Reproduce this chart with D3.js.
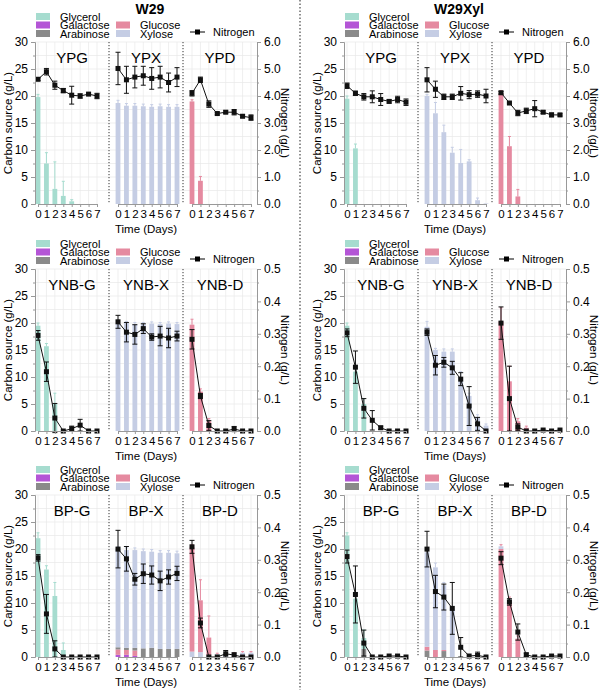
<!DOCTYPE html>
<html><head><meta charset="utf-8">
<script src="https://cdn.jsdelivr.net/npm/d3@7/dist/d3.min.js"></script>
<style>body{margin:0;background:#fff}text{font-family:"Liberation Sans",Arial,sans-serif}</style>
</head><body><svg id="c" width="604" height="690"></svg>
<script>
const days=[0,1,2,3,4,5,6,7];
const strains=["W29","W29Xyl"];
const mediaRows=[["YPG","YPX","YPD"],["YNB-G","YNB-X","YNB-D"],["BP-G","BP-X","BP-D"]];
const nitrogenMax=[6,0.5,0.5];
const nitrogenTicks=[[0,1,2,3,4,5,6],[0,0.1,0.2,0.3,0.4,0.5],[0,0.1,0.2,0.3,0.4,0.5]];
const carbonTicks=[0,5,10,15,20,25,30];
const sugarColors={glycerol:"#a6dccf",galactose:"#b455d6",arabinose:"#8a8a8a",glucose:"#e58aa0",xylose:"#c5cde4"};
// ---- W29 ----
const W29_YPG_glycerol=[19.8,7.5,2.8,1.5,0.5,0,0,0], W29_YPG_err=[0.5,2,5,2.7,0.3,0,0,0];
const W29_YPG_N=[4.62,4.9,4.4,4.2,4.03,4.0,4.07,4.0], W29_YPG_Nerr=[0.05,0.12,0.15,0.08,0.33,0.08,0.04,0.1];
const W29_YPX_xylose=[18.7,18.2,18.2,18.1,18.0,18.1,18.0,18.0], W29_YPX_err=[0.5,0.4,0.4,0.4,0.4,0.4,0.4,0.4];
const W29_YPX_N=[5.02,4.6,4.7,4.75,4.65,4.7,4.5,4.7], W29_YPX_Nerr=[0.6,0.5,0.4,0.35,0.4,0.4,0.35,0.35];
const W29_YPD_glucose=[19.0,4.3,0,0,0,0,0,0], W29_YPD_err=[0.3,0.8,0,0,0,0,0,0];
const W29_YPD_N=[4.1,4.6,3.7,3.35,3.4,3.4,3.25,3.2], W29_YPD_Nerr=[0.1,0.1,0.12,0.05,0.05,0.1,0.05,0.1];
const W29_YNBG_glycerol=[19.5,15.7,5,0,0,0,0,0], W29_YNBG_err=[0.5,0.5,2,0,0,0,0,0];
const W29_YNBG_N=[0.295,0.183,0.04,0,0.007,0.018,0,0], W29_YNBG_Nerr=[0.015,0.03,0.045,0,0.008,0.018,0,0];
const W29_YNBX_xylose=[19.8,20,19.8,19.8,19.9,19.8,19.9,19.8], W29_YNBX_err=[0.4,0.3,0.3,0.3,0.3,0.3,0.3,0.3];
const W29_YNBX_N=[0.337,0.305,0.298,0.316,0.29,0.293,0.287,0.293], W29_YNBX_Nerr=[0.02,0.03,0.03,0.015,0.01,0.03,0.03,0.015];
const W29_YNBD_glucose=[19.7,7.3,1.8,0,0,0,0,0], W29_YNBD_err=[1,0.5,0.5,0,0,0,0,0];
const W29_YNBD_N=[0.283,0.108,0.017,0,0,0.006,0,0], W29_YNBD_Nerr=[0.03,0.008,0.015,0,0,0.008,0,0];
const W29_BPG_glycerol=[22,16.2,11.3,1.3,0,0,0,0], W29_BPG_err=[1,0.7,2.5,1.3,0,0,0,0];
const W29_BPG_N=[0.306,0.133,0.025,0,0,0,0,0], W29_BPG_Nerr=[0.01,0.06,0.025,0,0,0,0,0];
const W29_BPX_galactose=[0.4,0.4,0.2,0,0,0,0,0], W29_BPX_glucose=[1.0,0.9,1.0,0,0,0,0,0];
const W29_BPX_arabinose=[0.4,0.4,0.5,1.6,1.7,1.5,1.5,1.5], W29_BPX_xylose=[18.2,18.1,18.1,18.0,17.8,17.8,17.8,17.7];
const W29_BPX_err=[0.4,0.4,0.4,0.4,0.4,0.4,0.4,0.4];
const W29_BPX_N=[0.333,0.303,0.24,0.257,0.253,0.235,0.247,0.258], W29_BPX_Nerr=[0.058,0.038,0.018,0.03,0.028,0.03,0.022,0.022];
const W29_BPD_xylose=[1.0,0.9,0.3,0.5,0.6,0.6,0.8,0.8], W29_BPD_glucose=[19.3,9.6,3.3,0,0,0,0,0], W29_BPD_err=[0.5,3.8,4,0.2,0.2,0.2,0.2,0.2];
const W29_BPD_N=[0.34,0.105,0,0,0.01,0.006,0,0], W29_BPD_Nerr=[0.02,0.015,0,0,0.01,0.007,0,0];
// ---- W29Xyl ----
const X_YPG_glycerol=[19.5,10.3,0,0,0,0,0,0], X_YPG_err=[0.5,0.8,0,0,0,0,0,0];
const X_YPG_N=[4.38,4.1,3.97,3.97,3.87,3.8,3.87,3.77], X_YPG_Nerr=[0.1,0.08,0.12,0.22,0.22,0.06,0.12,0.12];
const X_YPX_xylose=[20,16.8,13.3,9.5,7.6,7.9,0.7,0.1], X_YPX_err=[0.3,2,1.3,1,2.5,0.3,0.4,0];
const X_YPX_N=[4.6,4.25,3.97,3.97,4.1,4.05,4.07,4.0], X_YPX_Nerr=[0.45,0.3,0.1,0.1,0.25,0.15,0.12,0.25];
const X_YPD_glucose=[20.5,10.7,1.4,0,0,0,0,0], X_YPD_err=[0.5,1.8,1.3,0,0,0,0,0];
const X_YPD_N=[4.12,3.74,3.37,3.45,3.53,3.4,3.3,3.3], X_YPD_Nerr=[0.05,0.03,0.1,0.1,0.3,0.05,0.07,0.04];
const X_YNBG_glycerol=[19.5,11,5,0,0,0,0,0], X_YNBG_err=[0.5,0.5,1,0,0,0,0,0];
const X_YNBG_N=[0.303,0.197,0.07,0.033,0.01,0,0,0], X_YNBG_Nerr=[0.012,0.05,0.03,0.03,0.005,0,0,0];
const X_YNBX_xylose=[19.3,15.0,14.7,14.7,10,6.5,2.5,1], X_YNBX_err=[1,0.3,0.5,0.5,1,0.5,0.5,0.3];
const X_YNBX_N=[0.305,0.203,0.212,0.195,0.16,0.077,0.022,0], X_YNBX_Nerr=[0.01,0.03,0.015,0.02,0.02,0.06,0.02,0];
const X_YNBD_glucose=[20.3,9.2,1.8,0.6,0,0,0,0], X_YNBD_err=[2.5,2.8,0.5,0.3,0,0,0,0];
const X_YNBD_N=[0.333,0.1,0.012,0,0,0.003,0,0.003], X_YNBD_Nerr=[0.05,0.1,0.01,0,0,0,0,0];
const X_BPG_arabinose=[0,0,1.5,0,0,0,0,0], X_BPG_glycerol=[22.5,10.8,2.0,0,0,0,0,0], X_BPG_err=[0.5,0.5,1.5,0,0,0,0,0];
const X_BPG_N=[0.31,0.193,0.043,0,0,0.003,0.003,0], X_BPG_Nerr=[0.02,0.088,0.04,0,0,0,0.003,0];
const X_BPX_arabinose=[1.2,0,1.1,0,0,0,0,0], X_BPX_glucose=[0.7,1.3,0.2,0,0,0,0,0], X_BPX_xylose=[17.5,15.3,12.0,9.0,0,0,0,0], X_BPX_err=[0.5,0.8,0.5,0.3,0,0,0,0];
const X_BPX_N=[0.333,0.202,0.185,0.15,0.03,0.003,0.005,0], X_BPX_Nerr=[0.055,0.05,0.04,0.08,0.03,0,0.01,0];
const X_BPD_glucose=[20.0,10.3,3.4,0,0,0,0,0], X_BPD_xylose=[0.5,0.3,0,0,0,0,0,0], X_BPD_err=[0.3,0.5,0.5,0,0,0,0,0];
const X_BPD_N=[0.305,0.17,0.077,0.007,0,0,0.003,0.003], X_BPD_Nerr=[0.02,0.01,0.025,0.005,0,0,0,0];

const table=[
 [[{glycerol:W29_YPG_glycerol},W29_YPG_err,W29_YPG_N,W29_YPG_Nerr],[{xylose:W29_YPX_xylose},W29_YPX_err,W29_YPX_N,W29_YPX_Nerr],[{glucose:W29_YPD_glucose},W29_YPD_err,W29_YPD_N,W29_YPD_Nerr],
  [{glycerol:W29_YNBG_glycerol},W29_YNBG_err,W29_YNBG_N,W29_YNBG_Nerr],[{xylose:W29_YNBX_xylose},W29_YNBX_err,W29_YNBX_N,W29_YNBX_Nerr],[{glucose:W29_YNBD_glucose},W29_YNBD_err,W29_YNBD_N,W29_YNBD_Nerr],
  [{glycerol:W29_BPG_glycerol},W29_BPG_err,W29_BPG_N,W29_BPG_Nerr],[{galactose:W29_BPX_galactose,glucose:W29_BPX_glucose,arabinose:W29_BPX_arabinose,xylose:W29_BPX_xylose},W29_BPX_err,W29_BPX_N,W29_BPX_Nerr],[{xylose:W29_BPD_xylose,glucose:W29_BPD_glucose},W29_BPD_err,W29_BPD_N,W29_BPD_Nerr]],
 [[{glycerol:X_YPG_glycerol},X_YPG_err,X_YPG_N,X_YPG_Nerr],[{xylose:X_YPX_xylose},X_YPX_err,X_YPX_N,X_YPX_Nerr],[{glucose:X_YPD_glucose},X_YPD_err,X_YPD_N,X_YPD_Nerr],
  [{glycerol:X_YNBG_glycerol},X_YNBG_err,X_YNBG_N,X_YNBG_Nerr],[{xylose:X_YNBX_xylose},X_YNBX_err,X_YNBX_N,X_YNBX_Nerr],[{glucose:X_YNBD_glucose},X_YNBD_err,X_YNBD_N,X_YNBD_Nerr],
  [{arabinose:X_BPG_arabinose,glycerol:X_BPG_glycerol},X_BPG_err,X_BPG_N,X_BPG_Nerr],[{arabinose:X_BPX_arabinose,glucose:X_BPX_glucose,xylose:X_BPX_xylose},X_BPX_err,X_BPX_N,X_BPX_Nerr],[{glucose:X_BPD_glucose,xylose:X_BPD_xylose},X_BPD_err,X_BPD_N,X_BPD_Nerr]]
];

const svg=d3.select("#c");
svg.append("line").attr("x1",300).attr("x2",300).attr("y1",0).attr("y2",690).attr("stroke","#222").attr("stroke-dasharray","1.5,2");
const rowTop=[42,269,495], H=162, colX=[35,344], W=222;
const legendItems=[["Glycerol","glycerol",0,0],["Galactose","galactose",0,1],["Arabinose","arabinose",0,2],["Glucose","glucose",1,1],["Xylose","xylose",1,2]];

strains.forEach((s,ci)=>{
  const L=colX[ci];
  svg.append("text").attr("x",L+115).attr("y",14).attr("text-anchor","middle").attr("font-size",14).attr("font-weight","bold").text(s);
  mediaRows.forEach((meds,ri)=>{
    const T=rowTop[ri], B=T+H;
    const g=svg.append("g");
    const y=d3.scaleLinear().domain([0,30]).range([B,T]);
    const yN=d3.scaleLinear().domain([0,nitrogenMax[ri]]).range([B,T]);
    legendItems.forEach(([lab,k,c,r])=>{
      const lx=L+1+c*80, ly=T-25+r*8.5;
      g.append("rect").attr("x",lx).attr("y",ly-4).attr("width",14).attr("height",7).attr("fill",sugarColors[k]);
      g.append("text").attr("x",lx+24).attr("y",ly+3.5).attr("font-size",11).text(lab);
    });
    g.append("line").attr("x1",L+155).attr("x2",L+170).attr("y1",T-10).attr("y2",T-10).attr("stroke","#000");
    g.append("rect").attr("x",L+160).attr("y",T-12.5).attr("width",5).attr("height",5);
    g.append("text").attr("x",L+178).attr("y",T-6).attr("font-size",11).text("Nitrogen");
    const sw=W/3;
    meds.forEach((m,si)=>{
      const sx=L+si*sw;
      const x=d3.scaleLinear().domain([0,7]).range([sx+(si==0?3:9),sx+(si==0?3:9)+59]);
      const [stack,err,N,Nerr]=table[ci][ri*3+si];
      g.selectAll(null).data(d3.range(2.5,30.1,2.5)).join("line").attr("x1",sx).attr("x2",sx+sw).attr("y1",d=>y(d)).attr("y2",d=>y(d)).attr("stroke","#e8e8e8").attr("stroke-width",0.7);
      g.selectAll(null).data(days).join("line").attr("x1",d=>x(d)).attr("x2",d=>x(d)).attr("y1",T).attr("y2",B).attr("stroke","#e8e8e8").attr("stroke-width",0.7);
      const base=days.map(()=>0);
      const keys=Object.keys(stack);
      keys.forEach(k=>{
        const v=stack[k];
        g.selectAll(null).data(days).join("rect").attr("x",d=>x(d)-2.4).attr("width",4.8)
          .attr("y",d=>y(base[d]+v[d])).attr("height",d=>y(base[d])-y(base[d]+v[d])).attr("fill",sugarColors[k]);
        days.forEach(d=>base[d]+=v[d]);
      });
      const ec=sugarColors[keys.reduce((a,k)=>stack[k][0]>stack[a][0]?k:a,keys[0])];
      days.forEach(d=>{
        if(base[d]<=0||err[d]<=0) return;
        g.append("line").attr("x1",x(d)).attr("x2",x(d)).attr("y1",y(base[d])).attr("y2",y(base[d]+err[d])).attr("stroke",ec).attr("stroke-width",1);
        g.append("line").attr("x1",x(d)-1.5).attr("x2",x(d)+1.5).attr("y1",y(base[d]+err[d])).attr("y2",y(base[d]+err[d])).attr("stroke",ec);
      });
      days.forEach(d=>{
        if(Nerr[d]<=0) return;
        const y1=yN(N[d]-Nerr[d]), y2=yN(N[d]+Nerr[d]);
        g.append("line").attr("x1",x(d)).attr("x2",x(d)).attr("y1",y1).attr("y2",y2).attr("stroke","#111");
        [y1,y2].forEach(yy=>g.append("line").attr("x1",x(d)-2.5).attr("x2",x(d)+2.5).attr("y1",yy).attr("y2",yy).attr("stroke","#111"));
      });
      g.append("path").datum(days).attr("fill","none").attr("stroke","#111").attr("stroke-width",1)
        .attr("d",d3.line().x(d=>x(d)).y(d=>yN(N[d])));
      g.selectAll(null).data(days).join("rect").attr("x",d=>x(d)-2.5).attr("y",d=>yN(N[d])-2.5).attr("width",5).attr("height",5).attr("fill","#111");
      const ax=g.append("g").attr("transform",`translate(0,${B})`).call(d3.axisBottom(x).tickValues(days).tickSize(3).tickPadding(2).tickFormat(d3.format("d")));
      ax.select(".domain").attr("stroke","#999");
      ax.selectAll(".tick line").attr("stroke","#999");
      ax.selectAll("text").attr("font-size",11.5).attr("fill","#000").attr("dy","0.8em");
      if(si>0) g.append("line").attr("x1",sx).attr("x2",sx).attr("y1",T).attr("y2",B).attr("stroke","#333").attr("stroke-dasharray","1.2,1.8");
      g.append("text").attr("x",sx+sw/2).attr("y",T+21).attr("text-anchor","middle").attr("font-size",15).text(m);
      if(si==1) g.append("text").attr("x",sx+sw/2).attr("y",B+29).attr("text-anchor","middle").attr("font-size",11.5).text("Time (Days)");
    });
    const yl=g.append("g").attr("transform",`translate(${L},0)`).call(d3.axisLeft(y).tickValues(carbonTicks).tickSize(4));
    g.append("g").attr("transform",`translate(${L},0)`).call(d3.axisLeft(y).tickValues(d3.range(2.5,30,5)).tickSize(2).tickFormat("")).select(".domain").remove();
    const yr=g.append("g").attr("transform",`translate(${L+W},0)`).call(d3.axisRight(yN).tickValues(nitrogenTicks[ri]).tickSize(4).tickFormat(d3.format(".1f")));
    const st=nitrogenMax[ri]/12;
    g.append("g").attr("transform",`translate(${L+W},0)`).call(d3.axisRight(yN).tickValues(d3.range(1,12,2).map(i=>i*st)).tickSize(2).tickFormat("")).select(".domain").remove();
    g.selectAll(".domain,.tick line").attr("stroke","#999");
    [yl,yr].forEach(a=>a.selectAll("text").attr("font-size",12).attr("fill","#000"));
    g.append("text").attr("transform",`translate(${L-23},${(T+B)/2}) rotate(-90)`).attr("text-anchor","middle").attr("font-size",11.5).text("Carbon source (g/L)");
    g.append("text").attr("transform",`translate(${L+W+24},${(T+B)/2}) rotate(90)`).attr("text-anchor","middle").attr("font-size",11.5).text("Nitrogen (g/L)");
  });
});
</script></body></html>
